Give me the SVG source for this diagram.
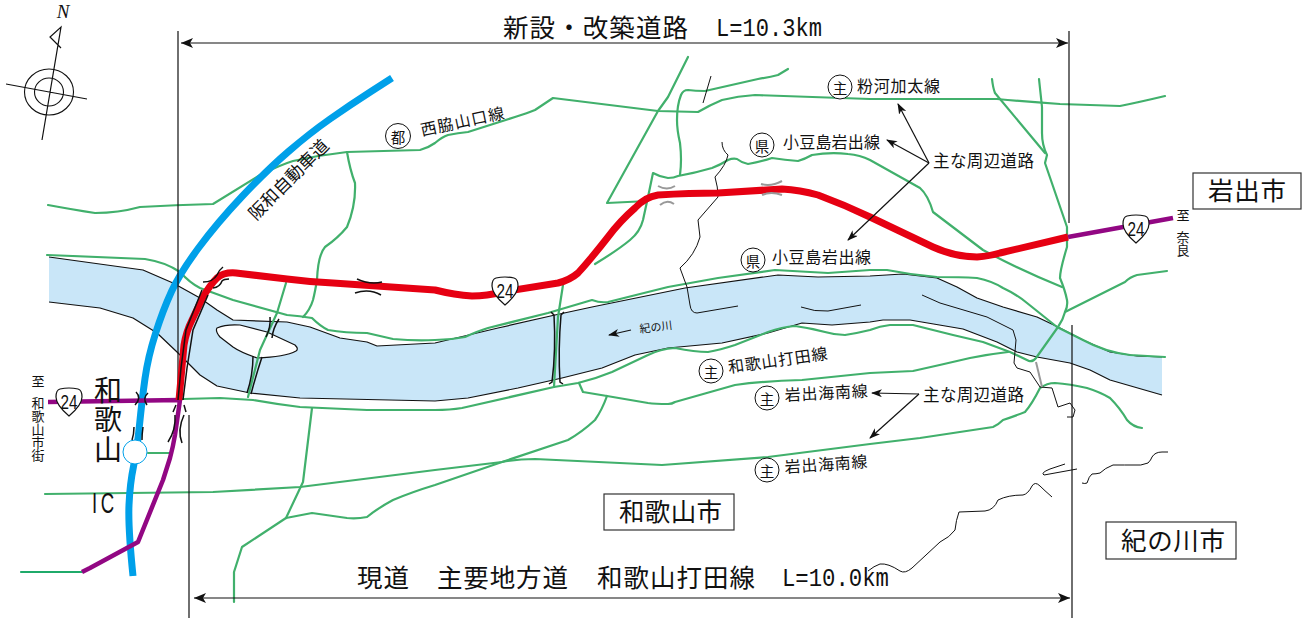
<svg xmlns="http://www.w3.org/2000/svg" width="1304" height="618" viewBox="0 0 1304 618">
<style>
text{font-family:"Noto Sans CJK JP","Liberation Sans",sans-serif;fill:#111}
.road{fill:none;stroke:#41b06c;stroke-width:2.2;stroke-linejoin:round;stroke-linecap:round}
.thin{fill:none;stroke:#111;stroke-width:1;stroke-linejoin:round}
.bank{fill:none;stroke:#111;stroke-width:1.2;stroke-linejoin:round}
.br{fill:none;stroke:#111;stroke-width:1.5}
.grey{fill:none;stroke:#999;stroke-width:2}
.dim{fill:none;stroke:#111;stroke-width:1.2}
.ldr{fill:none;stroke:#111;stroke-width:1.2;marker-end:url(#ah)}
.dimA{fill:none;stroke:#111;stroke-width:1.2;marker-end:url(#ah2);marker-start:url(#ah2s)}
.t26{font-size:25.5px}
.t16{font-size:16px}
.t17{font-size:16.5px}
.t13{font-size:13px;text-anchor:middle}
.vert{writing-mode:vertical-rl}
.lat{font-family:"Liberation Mono",monospace;font-size:26px}
.ring{fill:#fff;stroke:#111;stroke-width:1}
.rc{font-size:14.5px;text-anchor:middle;dominant-baseline:central}
.box{fill:#fff;stroke:#333;stroke-width:1.2}
.sh{fill:#fff;stroke:#111;stroke-width:1.2}
.shT{font-family:"Liberation Sans",sans-serif;font-size:20px;text-anchor:middle}
</style>
<defs>
<marker id="ah" markerWidth="12" markerHeight="10" refX="10" refY="4" orient="auto" markerUnits="userSpaceOnUse"><path d="M0,0L11,4L0,8L3,4Z" fill="#111"/></marker>
<marker id="ah2" markerWidth="14" markerHeight="10" refX="12" refY="5" orient="auto" markerUnits="userSpaceOnUse"><path d="M0,0L12,5L0,10L3,5Z" fill="#111"/></marker>
<marker id="ah2s" markerWidth="14" markerHeight="10" refX="0" refY="5" orient="auto" markerUnits="userSpaceOnUse"><path d="M12,0L0,5L12,10L9,5Z" fill="#111"/></marker>
<path id="shield" d="M-9,-13Q0,-15 9,-13Q13,-12 13,-5Q13,3 0,14Q-13,3 -13,-5Q-13,-12 -9,-13Z"/>
</defs>

<g id="river">
<path fill="#c9e6f8" d="M49,257L143,270L173,283L200,298L217,310L233,320L287,322L310,327L340,338L367,342L377,346L435,343L498,328L555,315L592,307L685,288L778,275L818,277L870,276L903,274L937,278L957,287L977,298L1003,307L1037,317L1058,327L1083,340L1110,352L1137,356L1162,357L1162,395L1110,380L1090,370L1070,363L1037,357L1017,352L997,342L963,329L910,320L883,320L870,322L832,325L802,323L768,333L722,343L668,348L635,355L602,368L562,378L518,388L468,398L435,401L300,398L250,393L217,386L200,375L177,352L157,333L133,318L100,308L49,302Z"/>
<path class="bank" d="M49,257L143,270L173,283L200,298L217,310L233,320L287,322L310,327L340,338L367,342L377,346L435,343L498,328L555,315L592,307L685,288L778,275L818,277L870,276L903,274L937,278L957,287L977,298L1003,307L1037,317L1058,327L1083,340L1110,352L1137,356L1162,357"/>
<path class="bank" d="M1162,395L1110,380L1090,370L1070,363L1037,357L1017,352L997,342L963,329L910,320L883,320L870,322L832,325L802,323L768,333L722,343L668,348L635,355L602,368L562,378L518,388L468,398L435,401L300,398L250,393L217,386L200,375L177,352L157,333L133,318L100,308L49,302"/>
<path class="bank" style="fill:#fff" d="M217,328Q226,324 240,325L267,332L295,345Q299,349 296,351Q285,357 257,358Q240,352 233,347L220,337Q215,331 217,328Z"/>
</g>

<g id="roads">
<path class="road" d="M48,205Q75,210 95,213Q118,213 140,207Q175,205 213,204L260,175Q280,165 293,161Q320,155 347,152L420,150Q428,148 435,143Q442,137 448,135Q458,133 468,132Q490,125 515,117Q528,113 535,110L553,98L658,111L698,112Q710,105 722,100Q738,96 755,95Q810,97 870,99L997,99Q1030,102 1060,104L1120,106Q1140,102 1165,96"/>
<path class="road" d="M347,152Q350,170 355,183Q356,205 347,227Q338,238 325,247Q318,255 317,280Q315,292 313,300Q310,310 303,317"/>
<path class="road" d="M47,255L145,259Q165,262 180,272Q190,283 200,288L233,300L287,315Q300,316 312,318Q320,326 328,330Q345,333 367,333Q380,336 393,339Q415,341 435,340Q450,340 465,337Q478,331 488,328L548,313L592,300Q600,303 608,302L668,287L718,278L775,270L828,273L870,270L887,270Q912,275 937,277Q960,277 977,278Q992,281 1003,288Q1016,294 1027,303L1057,327L1083,340Q1105,352 1130,355L1165,357"/>
<path class="road" d="M563,285L558,317L554,387"/>
<path class="road" d="M183,399L220,398L253,400Q275,404 300,407L367,410L435,410Q450,410 462,408L554,387L578,383Q595,379 612,372L648,355Q660,349 675,348Q695,352 708,352Q720,350 735,345L768,332Q782,327 795,326Q810,328 825,332Q835,335 845,335Q858,333 870,330Q880,326 890,325L913,325L953,335L983,342L1010,352L1029,361Q1033,362 1036,358L1058,327Q1063,320 1065,312Q1068,306 1067,300Q1065,290 1060,278Q1060,270 1067,247L1067,227L1045,163L1047,155Q1042,145 1042,133L1042,107L1039,79"/>
<path class="road" d="M992,79Q993,88 995,93L1045,153"/>
<path class="road" d="M1065,312L1125,282Q1130,277 1137,275L1167,271"/>
<path class="road" d="M1008,352Q990,354 970,358Q940,365 913,371L870,373L802,380Q765,381 735,385L675,402Q672,404 668,404Q655,404 648,403L607,396L583,392L579,383"/>
<path class="road" d="M607,396Q602,410 595,420Q582,432 568,440L502,462L435,485Q412,492 393,500Q378,508 367,517Q357,519 347,518L312,513L286,518L242,547L234,572L234,602"/>
<path class="road" d="M45,494L213,492L300,487L435,470L502,462Q518,459 535,459L662,465L768,457L870,444L920,438L993,427Q998,425 1003,420Q1015,416 1025,412Q1032,404 1040,388Q1047,383 1055,383Q1070,384 1087,388Q1100,392 1110,398Q1120,408 1127,420Q1133,427 1142,428"/>
<path class="road" d="M312,408L303,482L286,518"/>
<path class="road" d="M286,283L277,313L260,350L248,397"/>
<path class="road" d="M688,57L668,97L658,111L607,203L648,201"/>
<path class="road" d="M595,264Q618,250 630,240Q640,232 643,220L648,197L653,173Q660,177 668,178Q674,178 678,176Q695,173 712,168Q720,165 728,160Q733,158 737,159Q742,163 748,164Q760,162 772,158Q785,160 798,161Q805,159 812,155Q830,152 848,154Q860,155 870,160L920,188Q928,195 933,212Q950,225 983,250Q1020,270 1062,287"/>
<path class="road" d="M680,175Q682,160 680,143Q677,130 677,120Q677,105 681,95Q683,90 688,90Q695,91 705,91L758,79Q770,77 778,75L788,69"/>
<path class="road" d="M148,453L172,453"/>
<path class="road" style="stroke:#1faa6a" d="M21,572L82,572"/>
</g>

<g id="thin-lines">
<path class="thin" d="M722,142Q722,150 728,155Q726,165 715,177Q718,187 718,197L698,220L700,237Q695,255 680,268L687,287L690,305Q691,313 697,313L738,306"/>
<path class="thin" d="M801,307Q815,312 828,311L861,305"/>
<path class="thin" d="M922,295L940,303L987,317L1013,330L1016,340L1014,363L1017,368L1030,372L1040,387L1052,388L1058,407L1070,403L1075,410L1073,417L1067,417"/>
<path class="thin" d="M711,76L703,103"/>
<path class="thin" d="M1052,497Q1044,490 1040,486Q1035,481 1032,486Q1028,494 1023,495Q1008,495 998,500Q994,510 985,511L959,512Q956,520 955,530Q950,537 940,542L912,568Q905,574 900,571Q888,563 880,564Q874,566 868,571"/>
<path class="thin" d="M1065,464L1050,469Q1040,473 1044,475L1077,469"/>
<path class="thin" d="M1082,483Q1085,484 1087,483Q1089,476 1092,474Q1096,474 1100,473Q1105,468 1113,465Q1125,465 1135,465Q1140,466 1148,463Q1151,460 1152,457Q1155,452 1162,452L1168,452"/>
</g>

<g id="expressway">
<path fill="none" stroke="#00a0e9" stroke-width="7" d="M392,78L371,91.500Q350,105 330,119Q310,133 288.500,151.500Q267,170 242,196.500Q217,223 198.500,248Q180,273 171.500,291.500Q163,310 155.500,333.500Q148,357 145,378.500Q142,400 139.500,425Q137,450 133.500,466.500Q130,483 129,505Q128,527 133,576"/>
<circle cx="135" cy="452" r="12" fill="#fff" stroke="#00a0e9" stroke-width="1"/>
</g>

<g id="dimensions">
<path class="dim" d="M178,31V400M189,415V618M1069,31V223M1072,325V618"/>
<path class="dimA" d="M181,43H1068"/>
<path class="dimA" d="M194,598H1070"/>
</g>

<g id="route24">
<path fill="none" stroke="#920783" stroke-width="4.500" stroke-linejoin="round" d="M48,402L180,400L175,435Q173,447 170,458L163,480L138,542L90,568L82,572"/>
<polyline fill="none" stroke="#920783" stroke-width="4.500" points="1068,237 1173,218"/>
<path fill="none" stroke="#e60012" stroke-width="7" stroke-linejoin="round" d="M179,400L184,345Q186,332 192,320L203,297Q210,285 217,278Q224,272 236,273L287,279Q310,282 333,283L435,290Q455,295 472,296Q487,296 502,292L558,283Q570,280 578,273Q590,260 608,237Q620,221 635,208Q645,197 658,195Q690,193 718,193L782,189Q800,190 818,195Q845,205 870,217L933,247Q955,257 977,257Q990,256 1000,253L1068,237"/>
</g>

<g id="bridges">
<path class="br" d="M202,290L186,330L181,368L178,400M208,295L193,330L187,368L183,400"/>
<path class="br" d="M203,282Q213,282 217,275Q219,270 223,267M213,288Q220,287 222,281Q224,279 229,279"/>
<path class="br" d="M357,279Q370,285 382,282M355,293Q369,288 381,295"/>
<path class="br" d="M270,317Q271,327 266,337M279,319Q273,328 272,338"/>
<path class="br" d="M253,356Q253,375 247,393M262,357Q256,375 251,394"/>
<path class="br" d="M551,312L554,315Q556,350 552,382L549,384M564,312L561,315Q558,350 560,382L563,384"/>
<path class="br" d="M136,392Q142,398 135,405M148,393Q142,398 147,405"/>
<path class="br" d="M134,427Q134,434 132,440M143,427Q142,434 142,440"/>
<path class="br" d="M173,412L176,405M186,412L184,405"/>
<path class="br" d="M175,415Q176,430 168,442M184,415Q177,430 182,443"/>
<path class="grey" d="M658,186Q667,191 675,186M660,205Q667,199 674,204"/>
<path class="grey" d="M761,184Q771,187 782,181M762,195Q771,191 782,195"/>
<path class="grey" d="M1036,362L1042,387"/>
</g>

<g id="compass">
<ellipse cx="49" cy="92" rx="24.500" ry="23" fill="none" stroke="#111" stroke-width="1.1"/>
<ellipse cx="49" cy="92" rx="14.500" ry="14" fill="none" stroke="#111" stroke-width="1.1"/>
<path class="dim" d="M42,140L61,27L50,37L61,48M6,84L87,99"/>
<text x="63" y="18" style="font-family:'Liberation Serif',serif;font-style:italic;font-size:19px" text-anchor="middle">N</text>
</g>

<g id="leaders">
<path class="ldr" d="M929,163L898,104"/>
<path class="ldr" d="M929,163L887,140"/>
<path class="ldr" d="M929,163L848,240"/>
<path class="ldr" d="M919,394L872,393"/>
<path class="ldr" d="M919,394L870,438"/>
<path class="ldr" d="M631,330L609,335"/>
</g>

<g id="shields">
<g transform="translate(505,291)"><use href="#shield" class="sh"/><text class="shT" y="7" textLength="17" lengthAdjust="spacingAndGlyphs">24</text></g>
<g transform="translate(1136,229)"><use href="#shield" class="sh"/><text class="shT" y="7" textLength="17" lengthAdjust="spacingAndGlyphs">24</text></g>
<g transform="translate(69,402)"><use href="#shield" class="sh"/><text class="shT" y="7" textLength="17" lengthAdjust="spacingAndGlyphs">24</text></g>
</g>

<g id="labels">
<g id="lbl-top"><text class="t26" x="503" y="37" textLength="185">新設・改築道路</text><text class="lat" x="716" y="36" textLength="106" lengthAdjust="spacingAndGlyphs">L=10.3km</text></g>
<g id="lbl-bottom"><text class="t26" x="357" y="587" textLength="52">現道</text><text class="t26" x="437" y="587" textLength="131">主要地方道</text><text class="t26" x="597" y="587" textLength="158">和歌山打田線</text><text class="lat" x="782" y="586" textLength="107" lengthAdjust="spacingAndGlyphs">L=10.0km</text></g>
<g id="lbl-nishiwaki"><circle class="ring" cx="398" cy="136" r="12.500"/><text class="rc" x="398" y="136">都</text><text class="t16" transform="translate(422,136) rotate(-12)" textLength="85">西脇山口線</text></g>
<text id="lbl-hanwa" font-size="17.500" text-anchor="middle" transform="translate(293,184) rotate(-45)">阪和自動車道</text>
<g id="lbl-kokawa"><circle class="ring" cx="840" cy="87" r="12"/><text class="rc" x="840" y="87">主</text><text class="t16" x="857" y="92" textLength="83">粉河加太線</text></g>
<g id="lbl-azuki1"><circle class="ring" cx="762" cy="145" r="12"/><text class="rc" x="762" y="145">県</text><text class="t16" x="783" y="148" textLength="97">小豆島岩出線</text></g>
<g id="lbl-azuki2"><circle class="ring" cx="753" cy="260" r="12"/><text class="rc" x="753" y="260">県</text><text class="t16" x="772" y="263" textLength="99">小豆島岩出線</text></g>
<text class="t17" x="933" y="167" textLength="101">主な周辺道路</text>
<text class="t17" x="923" y="401" textLength="101">主な周辺道路</text>
<g id="lbl-uchita"><circle class="ring" cx="711" cy="371" r="12"/><text class="rc" x="711" y="371">主</text><text class="t16" transform="translate(729,373) rotate(-8)" textLength="100">和歌山打田線</text></g>
<g id="lbl-iwade1"><circle class="ring" cx="767" cy="398" r="12"/><text class="rc" x="767" y="398">主</text><text class="t16" transform="translate(785,401) rotate(-3)" textLength="83">岩出海南線</text></g>
<g id="lbl-iwade2"><circle class="ring" cx="767" cy="470" r="12"/><text class="rc" x="767" y="470">主</text><text class="t16" transform="translate(785,473) rotate(-4)" textLength="83">岩出海南線</text></g>
<text font-size="11" transform="translate(640,333) rotate(-7)">紀の川</text>
<text class="t13" x="1183" y="220">至</text>
<text class="vert" font-size="13" x="1183" y="231">奈良</text>
<text class="t13" x="38" y="386">至</text>
<text class="vert" font-size="13" x="38" y="397">和歌山市街</text>
<text class="vert" font-size="28" x="108" y="376" letter-spacing="1.500">和歌山</text>
<text x="0 14" transform="translate(92,513) scale(.62,1)" style="font-family:'Liberation Sans',sans-serif;font-size:30px">IC</text>
<g id="city-iwade"><rect class="box" x="1193" y="173" width="108" height="36"/><text class="t26" x="1208" y="200" textLength="78">岩出市</text></g>
<g id="city-wakayama"><rect class="box" x="604" y="494" width="130" height="36"/><text class="t26" x="619" y="521" textLength="103">和歌山市</text></g>
<g id="city-kinokawa"><rect class="box" x="1106" y="522" width="130" height="37"/><text class="t26" x="1121" y="550" textLength="104">紀の川市</text></g>
</g>
</svg>
